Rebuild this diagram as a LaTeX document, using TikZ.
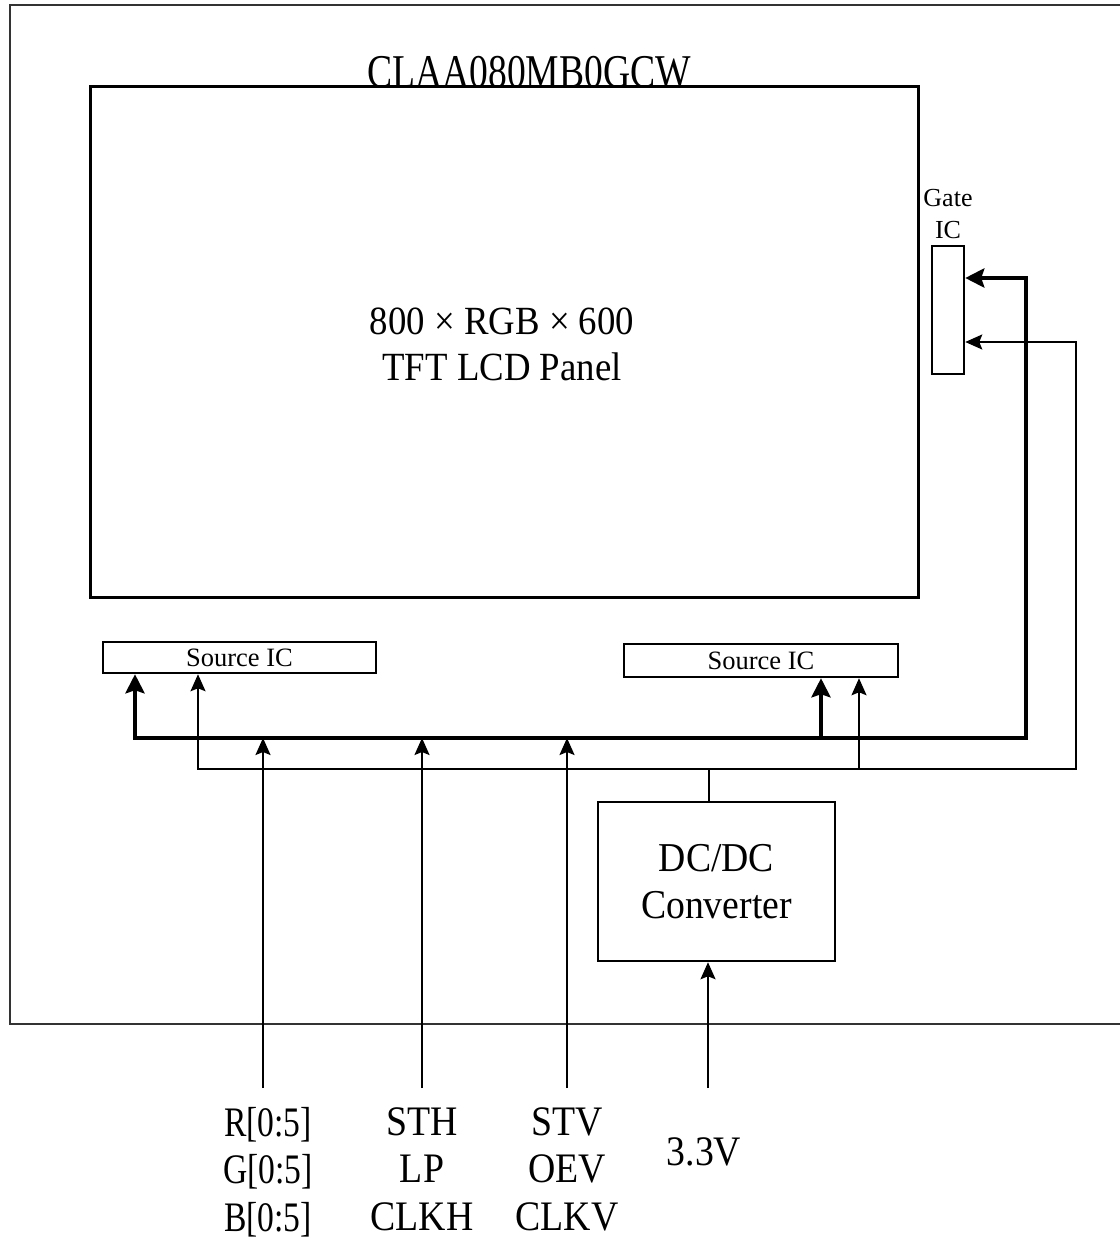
\documentclass[tikz,border=0pt]{standalone}
\usepackage{fontspec}
\setmainfont{Liberation Serif}
\newfontfamily\narrowfont{Liberation Serif}[FakeStretch=0.8]
\newfontfamily\midfont{Liberation Serif}[FakeStretch=0.92]
\newfontfamily\labfont{Liberation Serif}[FakeStretch=0.9]
\usetikzlibrary{arrows.meta,calc}
\tikzset{
  thinline/.style={line width=2pt},
  thickline/.style={line width=4.5pt},
  thinarrow/.style={thinline,-{Stealth[length=17pt,width=15pt,inset=3pt]}},
  thickarrow/.style={thickline,-{Stealth[length=19pt,width=19pt,inset=3pt]}},
  box/.style={draw,line width=2.5pt,inner sep=0pt},
  lbl/.style={inner sep=0pt,align=center},
}
\begin{document}
\begin{tikzpicture}[x=1pt,y=-1pt]
\useasboundingbox (0,0) rectangle (1119,1241);
% outer frame
\draw[line width=2pt,black!80] (1140,5) -- (10,5) -- (10,1024) -- (1140,1024);
% panel
\node[box,line width=3pt,minimum width=828pt,minimum height=510pt] (panel) at (504,342) {};
\node[lbl,anchor=base,font=\narrowfont\fontsize{47}{47}\selectfont] (title) at (529,88) {CLAA080MB0GCW};
\node[lbl,font=\midfont\fontsize{40}{46}\selectfont] (ptext) at (502,344) {800 × RGB × 600\\TFT LCD Panel};
% gate IC
\node[box,minimum width=32pt,minimum height=128pt] (gate) at (948,310) {};
\node[lbl,font=\fontsize{26}{32}\selectfont] (gatelbl) at (948,214) {Gate\\IC};
% source ICs
\node[box,minimum width=273pt,minimum height=31pt,font=\fontsize{26.5}{26.5}\selectfont] (srcL) at (239.5,657.5) {Source IC};
\node[box,minimum width=274pt,minimum height=33pt,font=\fontsize{26.5}{26.5}\selectfont] (srcR) at (761,660.5) {Source IC};
% DC/DC
\node[box,minimum width=237pt,minimum height=159pt,font=\midfont\fontsize{41}{47}\selectfont,align=center] (dcdc) at (716.5,881.5) {DC/DC\\Converter};
% bus coordinates
\coordinate (tbL) at (135,738);
\coordinate (tbR) at (1026,738);
\coordinate (tbT) at (1026,278);
\coordinate (tbB) at (821,738);
\coordinate (nbL) at (198,769);
\coordinate (nbR) at (1076,769);
\coordinate (nbT) at (1076,342);
\coordinate (nbB) at (859,769);
\coordinate (nbD) at (709,769);
% thick bus
\draw[thickline,{Stealth[length=19pt,width=19pt,inset=3pt]}-{Stealth[length=19pt,width=19pt,inset=3pt]}]
  (srcL.south -| tbL) -- (tbL) -- (tbR) -- (tbT) -- (gate.east |- tbT);
\draw[thickarrow] (tbB) -- (srcR.south -| tbB);
% thin bus
\draw[thinline,{Stealth[length=17pt,width=15pt,inset=3pt]}-{Stealth[length=17pt,width=15pt,inset=3pt]}]
  (srcL.south -| nbL) -- (nbL) -- (nbR) -- (nbT) -- (gate.east |- nbT);
\draw[thinarrow] (nbB) -- (srcR.south -| nbB);
\draw[thinline] (nbD) -- (dcdc.north -| nbD);
% inputs
\coordinate (inR) at (263,1088);
\coordinate (inS) at (422,1088);
\coordinate (inV) at (567,1088);
\coordinate (inP) at (708,1088);
\coordinate (jR) at (263,738);
\coordinate (jS) at (422,738);
\coordinate (jV) at (567,738);
\draw[thinarrow] (inR) -- (jR);
\draw[thinarrow] (inS) -- (jS);
\draw[thinarrow] (inV) -- (jV);
\draw[thinarrow] (inP) -- (dcdc.south -| inP);
% labels
\node[lbl,anchor=north,font=\narrowfont\fontsize{42}{47.5}\selectfont] (lR) at (268,1107) {R[0:5]\\G[0:5]\\B[0:5]};
\node[lbl,anchor=north,font=\labfont\fontsize{42}{47.5}\selectfont] (lS) at (422,1107) {STH\\LP\\CLKH};
\node[lbl,anchor=north,font=\labfont\fontsize{42}{47.5}\selectfont] (lV) at (567,1107) {STV\\OEV\\CLKV};
\node[lbl,font=\labfont\fontsize{42}{47.5}\selectfont] (lP) at (704,1152) {3.3V};
\end{tikzpicture}
\end{document}
